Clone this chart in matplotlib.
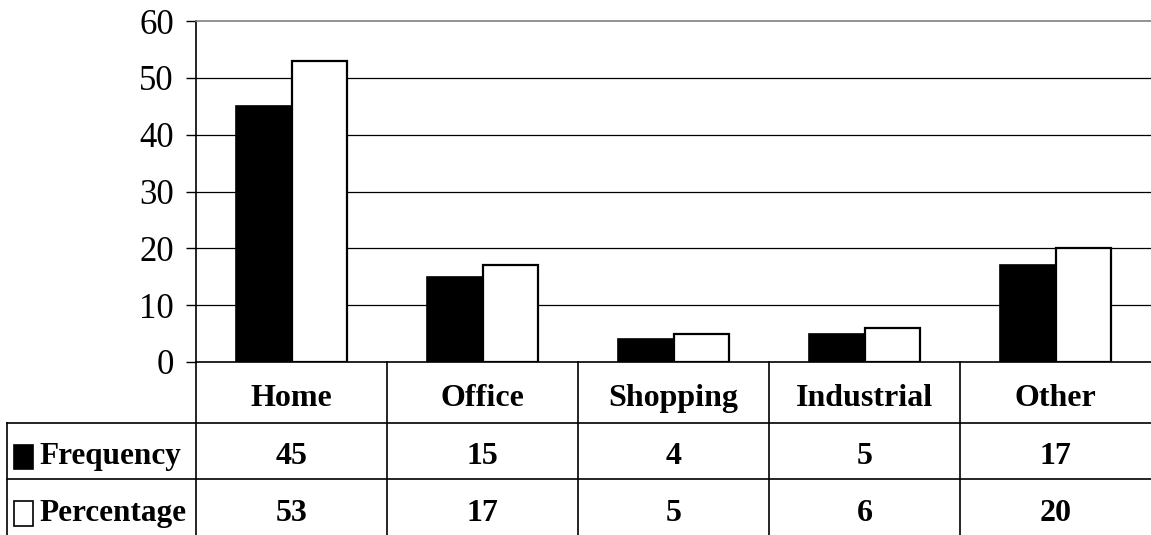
import matplotlib.pyplot as plt
from matplotlib.patches import Rectangle
from matplotlib.transforms import blended_transform_factory

categories = ["Home", "Office", "Shopping", "Industrial", "Other"]
frequency = [45, 15, 4, 5, 17]
percentage = [53, 17, 5, 6, 20]
series_names = ["Frequency", "Percentage"]
y_ticks = [0, 10, 20, 30, 40, 50, 60]

plt.rcParams["font.family"] = ["Liberation Serif", "DejaVu Serif"]

fig = plt.figure(figsize=(11.51, 5.35), dpi=100)
ax = fig.add_axes([196 / 1151, 173 / 535, 955 / 1151, 341 / 535])

x = list(range(len(categories)))
w = 0.29
ax.bar([i - w / 2 for i in x], frequency, w, color="black", edgecolor="black",
       linewidth=1.2, zorder=3)
ax.bar([i + w / 2 for i in x], percentage, w, color="white", edgecolor="black",
       linewidth=1.6, zorder=3)

ax.set_xlim(-0.5, len(categories) - 0.5)
ax.set_ylim(0, 60)
ax.set_yticks(y_ticks)
ax.set_yticklabels([str(t) for t in y_ticks], fontsize=25)
ax.set_xticks([])
ax.tick_params(axis="y", direction="out", length=7, width=1, pad=9)

for t in y_ticks[1:-1]:
    ax.axhline(t, color="black", linewidth=0.9, zorder=1)

for side in ["right", "bottom"]:
    ax.spines[side].set_visible(False)
ax.spines["top"].set_color("#808080")
ax.spines["top"].set_linewidth(1.2)
ax.spines["left"].set_linewidth(1.2)

# data table under the chart
trans = blended_transform_factory(ax.transData, ax.transAxes)
left = -1.49
rows = [-0.179, -0.343, -0.51]
centers = [-0.106, -0.278, -0.445]

ax.plot([-0.5, len(categories) - 0.5], [0, 0], color="black", lw=1.2,
        transform=trans, clip_on=False)
for y in rows[:2]:
    ax.plot([left, len(categories) - 0.5], [y, y], color="black", lw=1.2,
            transform=trans, clip_on=False)
ax.plot([left, left], [rows[0], rows[2]], color="black", lw=1.2,
        transform=trans, clip_on=False)
for i in range(len(categories)):
    ax.plot([i - 0.5, i - 0.5], [0, rows[2]], color="black", lw=1.2,
            transform=trans, clip_on=False)

txt = dict(fontsize=23, fontweight="bold", ha="center", va="center",
           transform=trans, clip_on=False)
for i, cat in enumerate(categories):
    ax.text(i, centers[0], cat, **txt)
    ax.text(i, centers[1], str(frequency[i]), **txt)
    ax.text(i, centers[2], str(percentage[i]), **txt)

for name, face, yc in zip(series_names, ["black", "white"], centers[1:]):
    ax.add_patch(Rectangle((-1.455, yc - 0.036), 0.104, 0.072, facecolor=face,
                           edgecolor="black", lw=1.2, transform=trans,
                           clip_on=False))
    ax.text(-1.32, yc, name, fontsize=22.5, fontweight="bold", ha="left",
            va="center", transform=trans, clip_on=False)

fig.savefig("out.png", dpi=100)
